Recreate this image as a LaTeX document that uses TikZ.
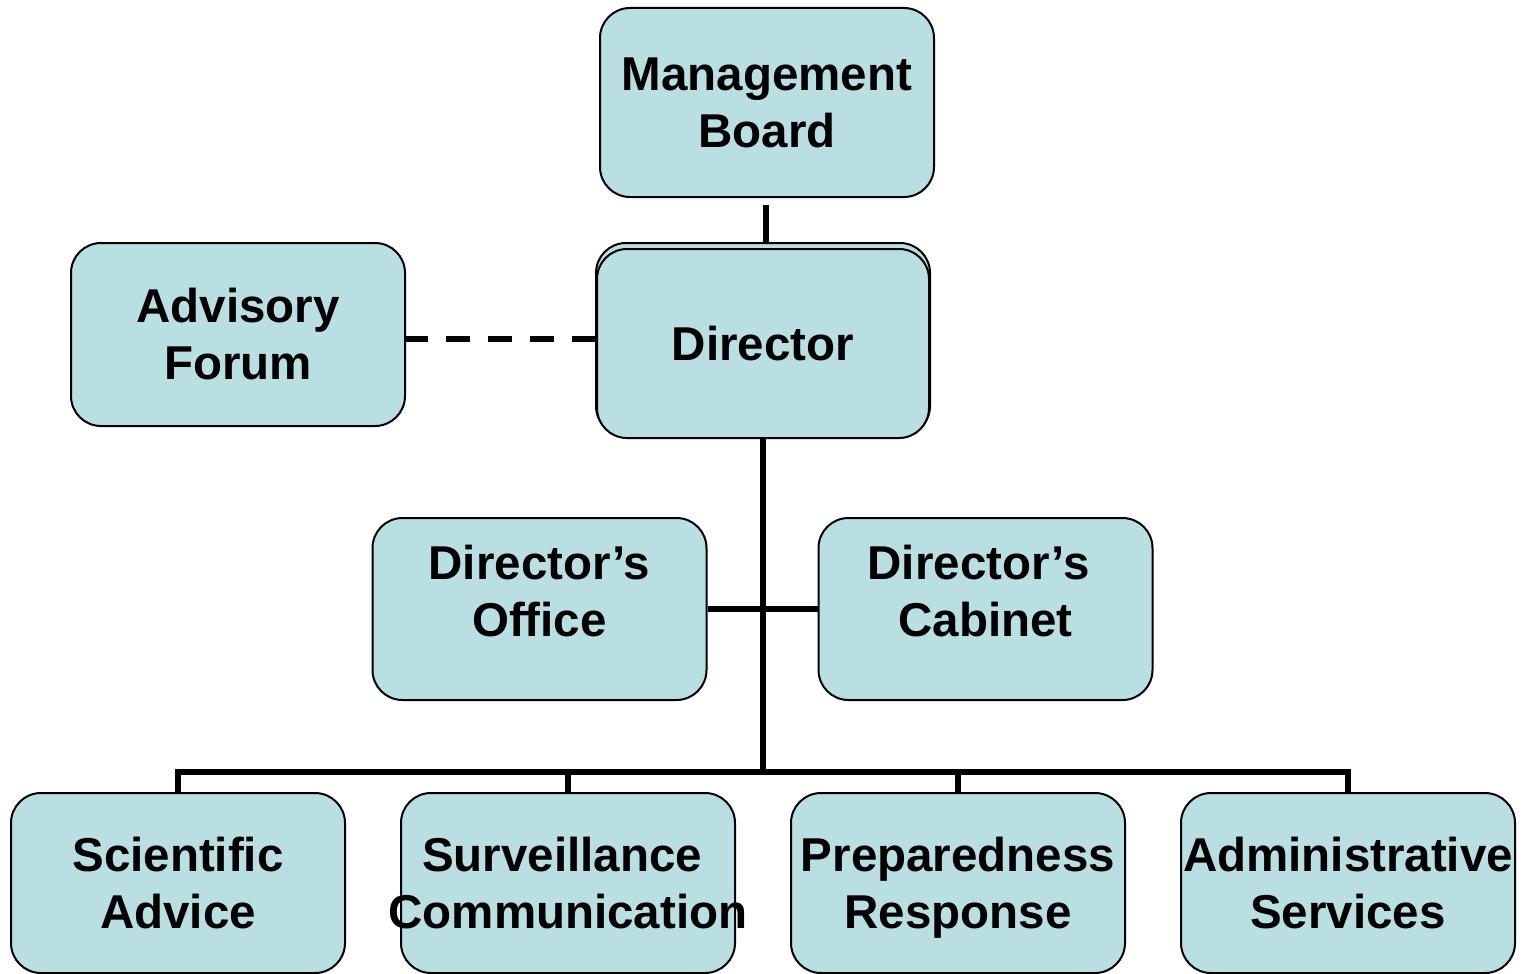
\documentclass[tikz,border=0pt]{standalone}
\usepackage{fontspec}
\setmainfont{Liberation Sans}
\usetikzlibrary{calc}
\definecolor{boxfill}{RGB}{186,223,226}
\tikzset{
  orgbox/.style={draw=black, line width=2pt, fill=boxfill, rounded corners=30pt,
    minimum width=334pt, inner sep=0pt, align=center,
    font=\bfseries\fontsize{47.5}{57}\selectfont},
  conn/.style={draw=black, line width=6pt},
}
\begin{document}
\begin{tikzpicture}[x=1pt,y=-1pt]
\useasboundingbox (0,0) rectangle (1524,974);
% top
\node[orgbox, minimum height=189pt] (mgmt) at (767,102.5) {Management\\Board};
\node[orgbox, minimum height=193pt, minimum width=334pt] (dirback) at (763,339.5) {};
\node[orgbox, minimum height=189pt, minimum width=332pt] (director) at (763,343.5) {Director};
\node[orgbox, minimum height=183pt] (advisory) at (238,334.5) {Advisory\\Forum};
% middle
\node[orgbox, minimum height=182pt, text depth=36pt] (office) at (539.5,609) {Director’s\\Office};
\node[orgbox, minimum height=182pt, text depth=36pt] (cabinet) at (985.5,609) {Director’s\hspace*{14pt}\\Cabinet};
% bottom
\node[orgbox, minimum height=180pt] (sci) at (178,883) {Scientific\\Advice};
\node[orgbox, minimum height=180pt] (surv) at (568,883) {\makebox[300pt]{Surveillance\hspace*{12pt}}\\\makebox[300pt]{Communication}};
\node[orgbox, minimum height=180pt, text depth=0pt] (prep) at (958,883) {Preparedness\\Response};
\node[orgbox, minimum height=180pt] (adm) at (1348,883) {\makebox[300pt]{Administrative}\\Services};
\coordinate (bus) at (763,772);
% connectors
\draw[conn] ([xshift=-1pt,yshift=-7pt]mgmt.south) -- ([xshift=-1pt]mgmt.south |- dirback.north);
\draw[conn] (director.south) -- (bus);
\draw[conn] (sci.north) -- (sci.north |- bus) -- (adm.north |- bus) -- (adm.north);
\draw[conn] (surv.north) -- (surv.north |- bus);
\draw[conn] (prep.north) -- (prep.north |- bus);
\draw[conn] (office.east) -- (cabinet.west);
\draw[conn, dash pattern=on 24pt off 18pt, dash phase=2pt] ([yshift=-4.5pt]advisory.east) -- ([yshift=-4.5pt]advisory.east -| director.west);
\end{tikzpicture}
\end{document}
